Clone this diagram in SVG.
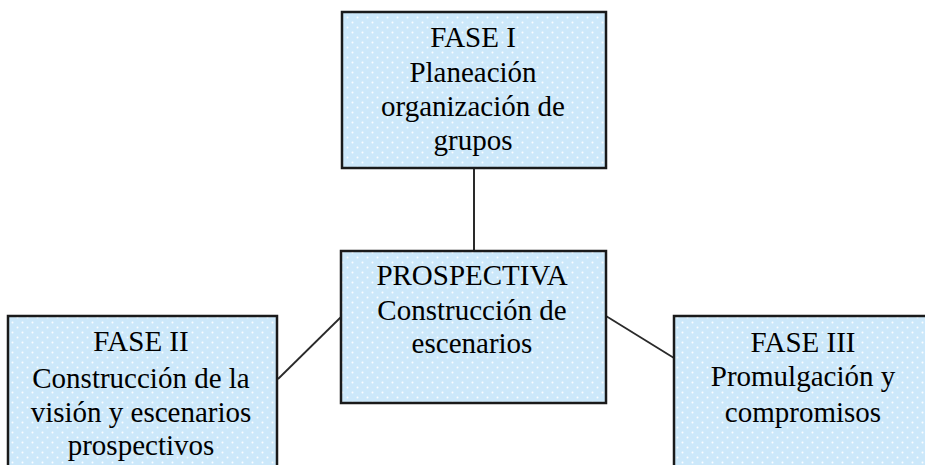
<svg xmlns="http://www.w3.org/2000/svg" width="925" height="465" viewBox="0 0 925 465">
<defs>
<pattern id="dots" x="0" y="0" width="10" height="10" patternUnits="userSpaceOnUse">
<rect width="10" height="10" fill="#cce8fa"/>
<circle cx="2.5" cy="2.5" r="1" fill="#ffffff" fill-opacity="0.9"/>
<circle cx="7.5" cy="7.5" r="1" fill="#ffffff" fill-opacity="0.9"/>
</pattern>
</defs>
<style>
.box{fill:url(#dots);stroke:#1a1a1a;stroke-width:2.5}
.t{font-family:"Liberation Serif","Times New Roman",serif;font-size:29px;fill:#000;text-anchor:middle}
.c{stroke:#2a2a2a;fill:none}
</style>
<rect width="925" height="465" fill="#ffffff"/>
<g id="connectors">
<line class="c" x1="474" y1="168" x2="474" y2="251" stroke-width="2"/>
<line class="c" x1="278" y1="379" x2="341" y2="317" stroke-width="1.8"/>
<line class="c" x1="606" y1="316" x2="674" y2="358" stroke-width="1.8"/>
</g>
<g id="fase1">
<rect class="box" x="342" y="12" width="264" height="156"/>
<text class="t" x="473" y="47">FASE I</text>
<text class="t" x="473" y="82">Planeación</text>
<text class="t" x="473" y="116">organización de</text>
<text class="t" x="473" y="150">grupos</text>
</g>
<g id="prospectiva">
<rect class="box" x="341" y="251" width="265" height="152"/>
<text class="t" x="472" y="285">PROSPECTIVA</text>
<text class="t" x="472" y="320">Construcción de</text>
<text class="t" x="472" y="353">escenarios</text>
</g>
<g id="fase2">
<rect class="box" x="8" y="316" width="269" height="160"/>
<text class="t" x="141" y="351">FASE II</text>
<text class="t" x="141" y="388">Construcción de la</text>
<text class="t" x="141" y="422">visión y escenarios</text>
<text class="t" x="141" y="455">prospectivos</text>
</g>
<g id="fase3">
<rect class="box" x="674" y="316" width="262" height="160"/>
<text class="t" x="803" y="352">FASE III</text>
<text class="t" x="803" y="386">Promulgación y</text>
<text class="t" x="803" y="422">compromisos</text>
</g>
</svg>
